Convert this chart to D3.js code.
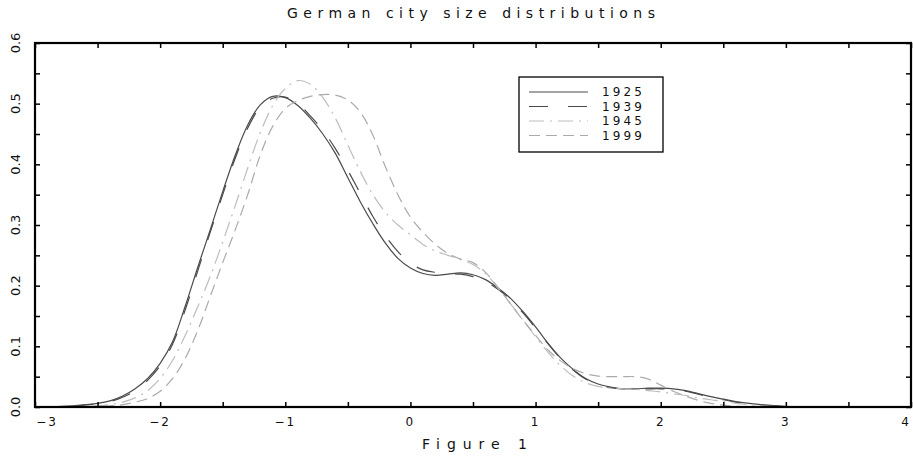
<!DOCTYPE html>
<html>
<head>
<meta charset="utf-8">
<script src="https://cdn.jsdelivr.net/npm/d3@7"></script>
<style>
    body { margin: 0; background: #fff; }
    text { font-family: 'DejaVu Sans', sans-serif; fill: #111; }
</style>
</head>
<body>
<div class="chart"></div>
<script>
// Density values, one array per year, on a shared x grid
var xGrid = [-3, -2.7, -2.5, -2.4, -2.3, -2.2, -2.1, -2.0, -1.9, -1.8, -1.7, -1.6, -1.5, -1.4, -1.3, -1.2, -1.1,
    -1.0, -0.9, -0.8, -0.7, -0.6, -0.5, -0.4, -0.3, -0.2, -0.1, 0, 0.1, 0.2, 0.3, 0.4, 0.5, 0.6, 0.7, 0.8, 0.9,
    1.0, 1.1, 1.2, 1.3, 1.4, 1.5, 1.6, 1.7, 1.8, 1.9, 2.0, 2.1, 2.2, 2.3, 2.4, 2.5, 2.6, 2.8, 3.0, 3.2];

var y1925 = [0, 0.002, 0.006, 0.010, 0.018, 0.030, 0.047, 0.072, 0.108, 0.166, 0.230, 0.292, 0.355, 0.415, 0.465, 0.498, 0.512,
    0.510, 0.497, 0.476, 0.450, 0.418, 0.378, 0.338, 0.302, 0.270, 0.245, 0.229, 0.220, 0.217, 0.219, 0.221, 0.218, 0.210, 0.196, 0.179, 0.157,
    0.132, 0.105, 0.081, 0.062, 0.047, 0.038, 0.033, 0.030, 0.030, 0.031, 0.031, 0.030, 0.027, 0.022, 0.017, 0.013, 0.009, 0.004, 0.001, 0];

var y1939 = [0, 0.002, 0.005, 0.009, 0.016, 0.027, 0.044, 0.068, 0.104, 0.160, 0.224, 0.288, 0.350, 0.410, 0.460, 0.494, 0.509,
    0.511, 0.500, 0.480, 0.456, 0.426, 0.390, 0.352, 0.314, 0.282, 0.256, 0.237, 0.226, 0.222, 0.220, 0.219, 0.215, 0.207, 0.194, 0.177, 0.155,
    0.130, 0.104, 0.080, 0.061, 0.046, 0.037, 0.032, 0.030, 0.030, 0.030, 0.030, 0.029, 0.026, 0.021, 0.016, 0.012, 0.008, 0.003, 0.001, 0];

var y1945 = [0, 0, 0.002, 0.004, 0.008, 0.015, 0.027, 0.047, 0.077, 0.118, 0.165, 0.215, 0.272, 0.332, 0.394, 0.452, 0.497,
    0.525, 0.538, 0.532, 0.510, 0.476, 0.432, 0.388, 0.350, 0.321, 0.300, 0.284, 0.268, 0.257, 0.250, 0.243, 0.235, 0.220, 0.196, 0.170, 0.143,
    0.116, 0.090, 0.068, 0.051, 0.040, 0.034, 0.031, 0.030, 0.029, 0.027, 0.025, 0.022, 0.019, 0.015, 0.012, 0.009, 0.006, 0.002, 0, 0];

var y1999 = [0, 0, 0.001, 0.002, 0.004, 0.008, 0.014, 0.026, 0.047, 0.080, 0.126, 0.182, 0.238, 0.292, 0.350, 0.415, 0.463,
    0.492, 0.505, 0.512, 0.515, 0.514, 0.506, 0.486, 0.448, 0.396, 0.350, 0.313, 0.288, 0.268, 0.253, 0.244, 0.238, 0.222, 0.197, 0.170, 0.143,
    0.118, 0.094, 0.076, 0.063, 0.055, 0.051, 0.050, 0.050, 0.050, 0.046, 0.036, 0.026, 0.018, 0.011, 0.006, 0.003, 0.001, 0, 0, 0];

var years = ['1925', '1939', '1945', '1999'];
var xTickValues = d3.range(-3, 4.01, 0.5);
var xLabelValues = [-3, -2, -1, 0, 1, 2, 3, 4];
var yTickValues = d3.range(0, 0.601, 0.05);
var yLabelValues = [0, 0.1, 0.2, 0.3, 0.4, 0.5, 0.6];

var series = [
    {name: years[0], values: y1925, color: '#4a4a4a', dash: null},
    {name: years[1], values: y1939, color: '#4a4a4a', dash: '19,20'},
    {name: years[2], values: y1945, color: '#bdbdbd', dash: '15,6,2,6'},
    {name: years[3], values: y1999, color: '#ababab', dash: '11,6'}
];

var width = 913, height = 459;
// note: 'top' would clash with window.top, so keep the frame edges in one object
var frame = {left: 35, right: 911, top: 43, bottom: 407};

var svg = d3.select('.chart').append('svg').attr('width', width).attr('height', height);

var x = d3.scaleLinear().domain([-3, 4]).range([frame.left, frame.right]);
var y = d3.scaleLinear().domain([0, 0.6]).range([frame.bottom, frame.top]);

// Curves first, frame drawn on top
var line = d3.line()
    .x(function(d, i) { return x(xGrid[i]); })
    .y(function(d) { return y(d); })
    .curve(d3.curveCatmullRom.alpha(0.5));

svg.append('g').selectAll('path')
    .data(series)
    .enter().append('path')
    .attr('d', function(d) { return line(d.values); })
    .attr('fill', 'none')
    .attr('stroke', function(d) { return d.color; })
    .attr('stroke-width', 1.2)
    .attr('stroke-dasharray', function(d) { return d.dash; });

// Inward ticks on all four sides
svg.append('g').attr('transform', 'translate(0,' + frame.bottom + ')')
    .call(d3.axisBottom(x).tickValues(xTickValues).tickSizeInner(-5).tickSizeOuter(0).tickFormat(''));
svg.append('g').attr('transform', 'translate(0,' + frame.top + ')')
    .call(d3.axisTop(x).tickValues(xTickValues).tickSizeInner(-5).tickSizeOuter(0).tickFormat(''));
svg.append('g').attr('transform', 'translate(' + frame.left + ',0)')
    .call(d3.axisLeft(y).tickValues(yTickValues).tickSizeInner(-5).tickSizeOuter(0).tickFormat(''));
svg.append('g').attr('transform', 'translate(' + frame.right + ',0)')
    .call(d3.axisRight(y).tickValues(yTickValues).tickSizeInner(-5).tickSizeOuter(0).tickFormat(''));

svg.selectAll('.tick line').attr('stroke', '#000').attr('stroke-width', 1.5);
svg.selectAll('.domain').attr('stroke', 'none');

svg.append('rect')
    .attr('x', frame.left).attr('y', frame.top)
    .attr('width', frame.right - frame.left).attr('height', frame.bottom - frame.top)
    .attr('fill', 'none').attr('stroke', '#000').attr('stroke-width', 2.2);

// Tick labels
svg.append('g').selectAll('text')
    .data(xLabelValues)
    .enter().append('text')
    .attr('x', function(d) { return Math.min(Math.max(x(d), 47), 906); })
    .attr('y', 426)
    .attr('text-anchor', 'middle')
    .style('font-size', '12px')
    .style('letter-spacing', '2px')
    .text(function(d) { return d < 0 ? '\u2212' + Math.abs(d) : d; });

svg.append('g').selectAll('text')
    .data(yLabelValues)
    .enter().append('text')
    .attr('transform', function(d) { return 'translate(20,' + Math.max(y(d), 22) + ') rotate(-90)'; })
    .attr('text-anchor', 'middle')
    .style('font-size', '13px')
    .text(function(d) { return d3.format('.1f')(d); });

// Title and caption
svg.append('text')
    .attr('x', 287).attr('y', 18)
    .attr('textLength', 368)
    .style('font-size', '14px')
    .text('German city size distributions');

svg.append('text')
    .attr('x', 422).attr('y', 449)
    .attr('textLength', 105)
    .style('font-size', '14px')
    .text('Figure 1');

// Legend
var legend = svg.append('g');
legend.append('rect')
    .attr('x', 519).attr('y', 77)
    .attr('width', 144).attr('height', 75)
    .attr('fill', '#fff').attr('stroke', '#000').attr('stroke-width', 1.3);

var row = legend.selectAll('.row')
    .data(series)
    .enter().append('g')
    .attr('transform', function(d, i) { return 'translate(0,' + (92 + i * 14.5) + ')'; });

row.append('line')
    .attr('x1', 529).attr('x2', 588)
    .attr('stroke', function(d) { return d.color; })
    .attr('stroke-width', 1.2)
    .attr('stroke-dasharray', function(d) { return d.dash; });

row.append('text')
    .attr('x', 602).attr('y', 4)
    .attr('textLength', 40)
    .style('font-size', '12px')
    .text(function(d) { return d.name; });
</script>
</body>
</html>
